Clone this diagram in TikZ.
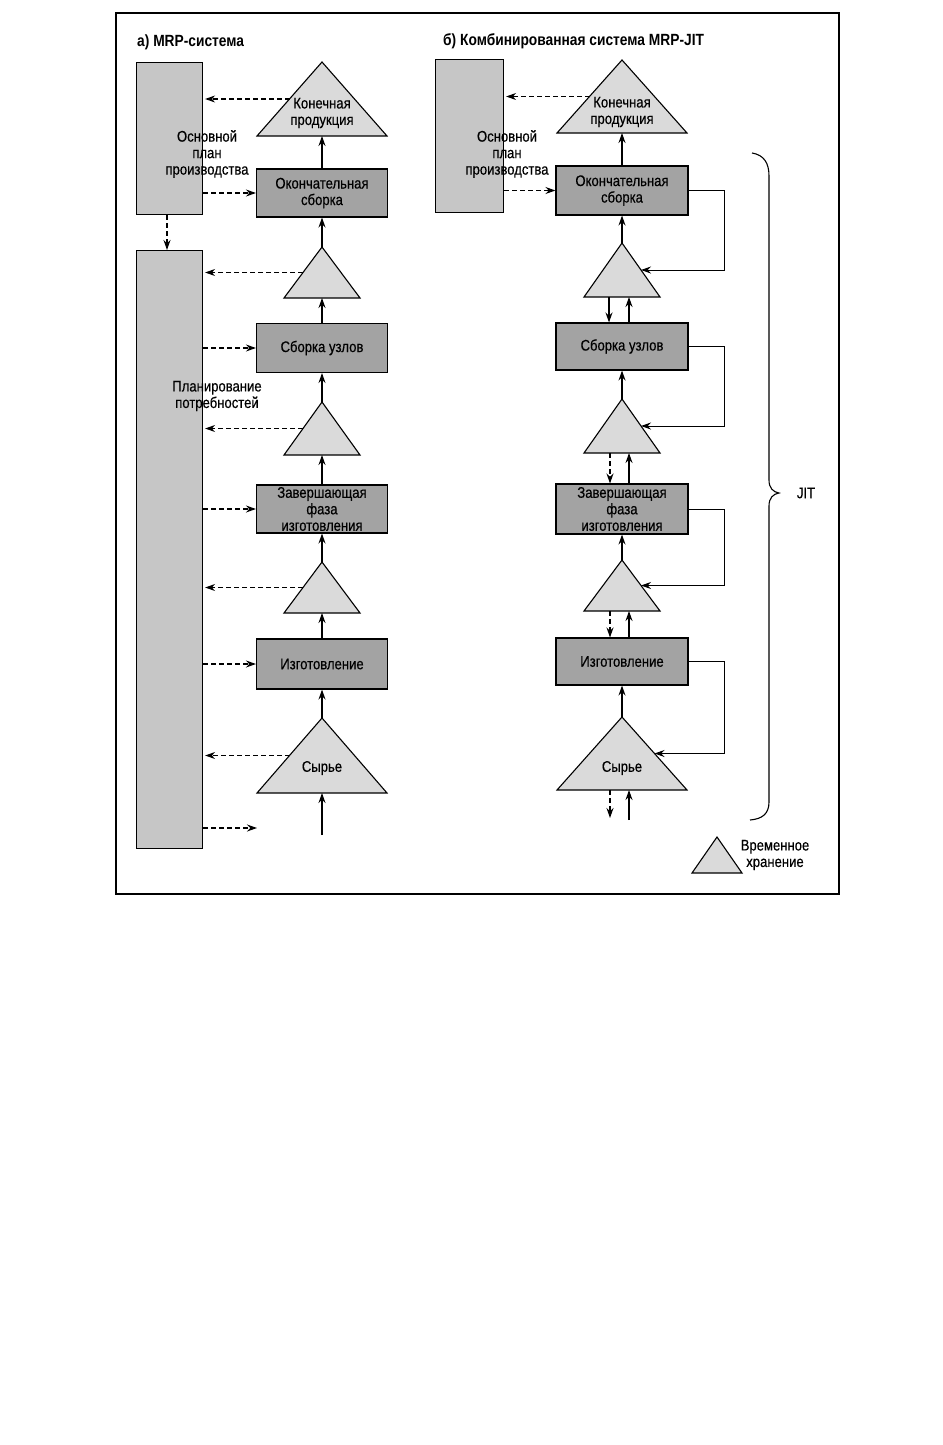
\documentclass[tikz,border=0pt]{standalone}
\usepackage{fontspec}
\setmainfont{Liberation Sans}[FakeStretch=0.85, UprightFeatures={FakeBold=0.4}]
\usetikzlibrary{arrows.meta,calc}
\definecolor{boxgray}{HTML}{A3A3A3}
\definecolor{plangray}{HTML}{C6C6C6}
\definecolor{trigray}{HTML}{DADADA}
\newcommand\mktri[5]{% name, x, apex y, half width, height
  \coordinate (#1-a) at (#2,#3);
  \coordinate (#1-l) at (#2-#4,#3+#5);
  \coordinate (#1-r) at (#2+#4,#3+#5);
  \coordinate (#1-b) at (#2,#3+#5);
  \filldraw[trist] (#1-a) -- (#1-l) -- (#1-r) -- cycle;
  \coordinate (#1-lm) at ($(#1-a)!0.5!(#1-l)$);
  \coordinate (#1-rm) at ($(#1-a)!0.5!(#1-r)$);
}
\tikzset{
  txt/.style={font=\fontsize{15.4}{16.5}\selectfont},
  box/.style={draw, line width=1.1pt, fill=boxgray, minimum width=131pt, inner sep=0pt, align=center, txt},
  plan/.style={draw, line width=1.1pt, fill=plangray, inner sep=0pt, anchor=north west},
  trist/.style={draw, line width=1.1pt, fill=trigray, line join=miter},
  lbl/.style={align=center, inner sep=0pt, txt},
  ttl/.style={inner sep=0pt, anchor=west, font=\fontsize{16.2}{18}\selectfont\bfseries},
  sarr/.style={line width=1.2pt, -{Stealth[length=10pt,width=7pt]}},
  darr/.style={sarr, dash pattern=on 5pt off 3pt},
  fb/.style={line width=1pt, -{Stealth[length=10pt,width=7pt]}},
}
\begin{document}
\begin{tikzpicture}[x=1pt,y=-1pt]
\useasboundingbox (0,0) rectangle (942,1445);
\fill[white] (0,0) rectangle (942,1445);
\draw[line width=1.3pt] (116,13) rectangle (839,894);

% titles
\node[ttl] (ta) at (137,42) {а) MRP-система};
\node[ttl] (tb) at (443,41) {б) Комбинированная система MRP-JIT};

%%%%%%%%%% LEFT COLUMN
\node[plan, minimum width=66pt, minimum height=152pt] (Lpl1) at (136,62) {};
\node[plan, minimum width=66pt, minimum height=598pt] (Lpl2) at (136,250) {};
\node[lbl] (Lpl1t) at (207,154) {Основной\\план\\производства};
\node[lbl] (Lpl2t) at (217,396) {Планирование\\потребностей};

\mktri{Lkp}{322}{62}{65}{74}
\node[lbl] (Lkpt) at (322,113) {Конечная\\продукция};
\node[box, minimum height=48pt] (Lok) at (322,193) {Окончательная\\сборка};
\mktri{Lt1}{322}{247}{38}{51}
\node[box, minimum height=49pt] (Lsb) at (322,348) {Сборка узлов};
\mktri{Lt2}{322}{402}{38}{53}
\node[box, minimum height=48pt] (Lzf) at (322,509) {Завершающая\\фаза\\изготовления};
\mktri{Lt3}{322}{562}{38}{51}
\node[box, minimum height=50pt] (Liz) at (322,664) {Изготовление};
\mktri{Lsy}{322}{718}{65}{75}
\node[lbl] (Lsyt) at (322,768) {Сырье};
\coordinate (Lin) at (322,835);
\coordinate (Lout) at (257,828);

% vertical flow
\draw[sarr] (Lok.north) -- (Lkp-b);
\draw[sarr] (Lt1-a) -- (Lok.south);
\draw[sarr] (Lsb.north) -- (Lt1-b);
\draw[sarr] (Lt2-a) -- (Lsb.south);
\draw[sarr] (Lzf.north) -- (Lt2-b);
\draw[sarr] (Lt3-a) -- (Lzf.south);
\draw[sarr] (Liz.north) -- (Lt3-b);
\draw[sarr] (Lsy-a) -- (Liz.south);
\draw[sarr] (Lin) -- (Lsy-b);

% dashed information arrows
\draw[darr] (Lkp-lm) -- ([xshift=2pt]Lkp-lm -| Lpl1.east);
\draw[darr] (Lok.west -| Lpl1.east) -- (Lok.west);
\draw[darr] ([xshift=31pt]Lpl1.south west) -- ([xshift=31pt]Lpl2.north west);
\draw[darr] (Lt1-lm) -- ([xshift=2pt]Lt1-lm -| Lpl2.east);
\draw[darr] (Lsb.west -| Lpl2.east) -- (Lsb.west);
\draw[darr] (Lt2-lm) -- ([xshift=2pt]Lt2-lm -| Lpl2.east);
\draw[darr] (Lzf.west -| Lpl2.east) -- (Lzf.west);
\draw[darr] (Lt3-lm) -- ([xshift=2pt]Lt3-lm -| Lpl2.east);
\draw[darr] (Liz.west -| Lpl2.east) -- (Liz.west);
\draw[darr] (Lsy-lm) -- ([xshift=2pt]Lsy-lm -| Lpl2.east);
\draw[darr] (Lout -| Lpl2.east) -- (Lout);

%%%%%%%%%% RIGHT COLUMN
\node[plan, minimum width=68pt, minimum height=153pt] (Rpl) at (435,59) {};
\node[lbl] (Rplt) at (507,154) {Основной\\план\\производства};

\mktri{Rkp}{622}{60}{65}{73}
\node[lbl] (Rkpt) at (622,112) {Конечная\\продукция};
\node[box, minimum width=132pt, minimum height=49pt] (Rok) at (622,190.5) {Окончательная\\сборка};
\mktri{Rt1}{622}{243}{38}{54}
\node[box, minimum width=132pt, minimum height=47pt] (Rsb) at (622,346.5) {Сборка узлов};
\mktri{Rt2}{622}{399}{38}{54}
\node[box, minimum width=132pt, minimum height=50pt] (Rzf) at (622,509) {Завершающая\\фаза\\изготовления};
\mktri{Rt3}{622}{560}{38}{51}
\node[box, minimum width=132pt, minimum height=47pt] (Riz) at (622,661.5) {Изготовление};
\mktri{Rsy}{622}{717}{65}{73}
\node[lbl] (Rsyt) at (622,768) {Сырье};
\coordinate (Rin) at (629,820);
\coordinate (Rout) at (610,818);

% vertical flow
\draw[sarr] (Rok.north) -- (Rkp-b);
\draw[sarr] (Rt1-a) -- (Rok.south);
\draw[sarr] ([xshift=-13pt]Rt1-b) -- ([xshift=-13pt]Rsb.north);
\draw[sarr] ([xshift=7pt]Rsb.north) -- ([xshift=7pt]Rt1-b);
\draw[sarr] (Rt2-a) -- (Rsb.south);
\draw[darr] ([xshift=-12pt]Rt2-b) -- ([xshift=-12pt]Rzf.north);
\draw[sarr] ([xshift=7pt]Rzf.north) -- ([xshift=7pt]Rt2-b);
\draw[sarr] (Rt3-a) -- (Rzf.south);
\draw[darr] ([xshift=-12pt]Rt3-b) -- ([xshift=-12pt]Riz.north);
\draw[sarr] ([xshift=7pt]Riz.north) -- ([xshift=7pt]Rt3-b);
\draw[sarr] (Rsy-a) -- (Riz.south);
\draw[darr] ([xshift=-12pt]Rsy-b) -- (Rout);
\draw[sarr] (Rin) -- ([xshift=7pt]Rsy-b);

% dashed information arrows
\draw[darr] (Rkp-lm) -- ([xshift=2pt]Rkp-lm -| Rpl.east);
\draw[darr] (Rok.west -| Rpl.east) -- (Rok.west);

% JIT feedback loops
\draw[fb] (Rok.east) -- ++(36,0) |- (Rt1-rm);
\draw[fb] (Rsb.east) -- ++(36,0) |- (Rt2-rm);
\draw[fb] (Rzf.east) -- ++(36,0) |- (Rt3-rm);
\draw[fb] (Riz.east) -- ++(36,0) |- (Rsy-rm);

% brace
\draw[line width=1.1pt] (752,153) .. controls (764,155) and (769,163) .. (769,176)
  -- (769,480) .. controls (769,488) and (773,492) .. (779,493)
  .. controls (773,494) and (769,498) .. (769,506)
  -- (769,802) .. controls (769,814) and (762,819) .. (750,820);
\node[lbl] (jit) at (806,493) {JIT};

% legend
\mktri{Leg}{717}{837}{25}{36}
\node[lbl] (legt) at (775,855) {Временное\\хранение};
\end{tikzpicture}
\end{document}
